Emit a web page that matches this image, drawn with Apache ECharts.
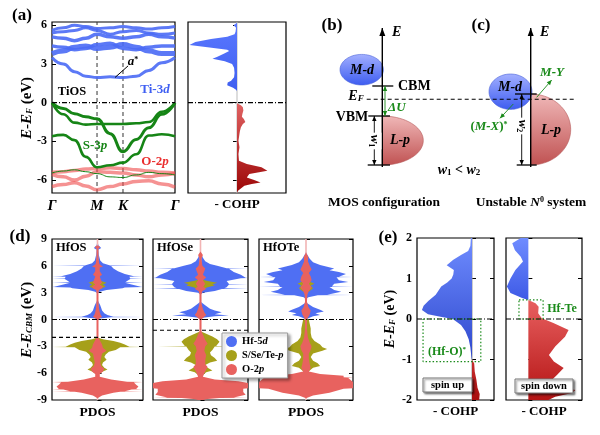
<!DOCTYPE html>
<html>
<head>
<meta charset="utf-8">
<script src="https://cdn.jsdelivr.net/npm/echarts@6.0.0/dist/echarts.min.js"></script>
<style>
html,body{margin:0;padding:0;background:#fff;}
#chart{width:600px;height:435px;}
</style>
</head>
<body>
<div id="chart"></div>
<script>
// ================= DATA =================
// (a) TiOS band structure
const kTicks = [0, 1, 1.577, 2.732];
const kTickLabels = ['Γ', 'M', 'K', 'Γ'];
const kGrid = [0, 0.25, 0.5, 0.75, 1.0, 1.29, 1.577, 1.87, 2.15, 2.44, 2.732];
const bandsTi3d = [
  [3.5, 3.0, 2.4, 2.05, 1.95, 2.0, 1.95, 2.05, 2.5, 3.1, 3.5],
  [3.8, 4.0, 4.3, 4.4, 4.2, 4.3, 4.5, 4.3, 4.0, 3.8, 3.8],
  [4.4, 4.3, 4.1, 4.2, 4.5, 4.6, 4.2, 4.1, 4.3, 4.4, 4.4],
  [5.1, 5.0, 4.8, 5.0, 5.3, 5.1, 5.0, 5.1, 5.3, 5.1, 5.0],
  [5.4, 5.5, 5.6, 5.8, 5.6, 5.3, 5.5, 5.6, 5.4, 5.3, 5.4],
  [5.6, 5.8, 6.0, 5.9, 5.75, 5.8, 5.9, 5.8, 5.7, 5.8, 5.9]
];
const bandsS3p = [
  [0, -0.45, -0.85, -1.1, -1.25, -2.4, -3.8, -2.85, -1.95, -0.9, 0],
  [0, -0.9, -1.55, -1.7, -1.65, -1.65, -1.65, -1.6, -1.5, -0.7, 0],
  [-2.6, -2.5, -2.9, -4.2, -5.0, -4.85, -4.65, -4.0, -2.55, -2.45, -2.6],
  [-5.45, -5.3, -5.2, -5.35, -5.5, -5.75, -5.8, -5.6, -5.4, -5.5, -5.6]
];
const bandsO2p = [
  [-5.4, -5.35, -5.25, -5.15, -5.1, -5.05, -5.1, -5.2, -5.3, -5.4, -5.45],
  [-5.55, -5.75, -6.0, -5.7, -5.35, -5.4, -5.45, -5.6, -5.75, -5.6, -5.5],
  [-6.5, -6.35, -6.2, -6.45, -6.75, -6.5, -6.3, -6.1, -6.05, -6.3, -6.55]
];
const aStarArrow = [[1.4, 1.95], [1.69, 2.85]];

// (a) -COHP of TiOS  [E, -COHP]
const cohpA_antibond = [[6.2,0],[6.0,-0.07],[5.8,-0.02],[5.5,-0.03],[5.3,-0.05],[5.1,-0.2],[4.93,-0.53],[4.7,-0.85],[4.47,-0.97],[4.3,-0.6],[4.1,-0.2],[4.0,-0.16],[3.8,-0.26],[3.55,-0.4],[3.4,-0.5],[3.2,-0.25],[3.0,-0.1],[2.7,-0.06],[2.3,-0.05],[1.96,-0.06],[1.7,-0.12],[1.57,-0.19],[1.35,-0.2],[1.15,-0.08],[1.0,-0.02],[0.9,0]];
const cohpA_bond = [[-0.05,0],[-0.2,0.08],[-0.36,0.12],[-0.6,0.13],[-0.88,0.11],[-1.1,0.1],[-1.26,0.14],[-1.5,0.17],[-1.65,0.12],[-1.91,0.08],[-2.2,0.06],[-2.43,0.05],[-2.95,0.03],[-3.2,0.04],[-3.46,0.05],[-3.98,0.03],[-4.5,0.04],[-4.75,0.2],[-5.01,0.5],[-5.27,0.62],[-5.4,0.45],[-5.53,0.25],[-5.79,0.2],[-6.0,0.35],[-6.18,0.48],[-6.3,0.3],[-6.43,0.15],[-6.82,0.02],[-7.0,0]];

// (d) PDOS half-widths  [E, w]
const hfOS_Hf5d = [[8.8,0],[8.3,0.02],[8.0,0.08],[7.8,0.02],[7.2,0.03],[6.6,0.06],[6.3,0.12],[6.03,0.28],[6.0,1.3],[5.97,0.3],[5.7,0.35],[5.4,0.45],[5.1,0.6],[4.83,0.8],[4.8,1.3],[4.77,0.7],[4.58,0.72],[4.55,1.3],[4.52,0.72],[4.3,0.65],[4.18,0.62],[4.15,1.3],[4.12,0.6],[3.9,0.75],[3.65,0.95],[3.62,1.3],[3.59,0.6],[3.5,0.55],[3.3,0.2],[3.1,0.05],[2.9,0],[2.2,0],[1.9,0.03],[1.6,0.06],[1.3,0.08],[1.0,0.1],[0.7,0.15],[0.5,0.22],[0.31,0.35],[0.28,1.3],[0.25,0.3],[0.1,0.05],[0.0,0]];
const hfOS_Sp = [[4.6,0],[4.3,0.08],[4.1,0.2],[3.9,0.12],[3.7,0.18],[3.5,0.1],[3.3,0],[-2.0,0],[-2.2,0.12],[-2.4,0.35],[-2.6,0.5],[-2.8,0.6],[-3.05,0.7],[-3.08,1.3],[-3.11,0.5],[-3.4,0.4],[-3.6,0.25],[-3.9,0.18],[-4.2,0.15],[-4.5,0.2],[-4.8,0.12],[-5.1,0.1],[-5.4,0.15],[-5.6,0.22],[-5.8,0.12],[-6.1,0.04],[-6.3,0]];
const hfOS_O2p = [[8.3,0],[8.1,0.06],[7.9,0.02],[7.0,0.02],[6.2,0.04],[5.9,0.12],[5.8,0.05],[5.4,0.05],[5.0,0.1],[4.8,0.05],[4.4,0.08],[4.1,0.1],[3.9,0.05],[3.7,0.12],[3.5,0.1],[3.3,0.03],[3.0,0.02],[2.0,0.02],[1.3,0.03],[0.8,0.05],[0.5,0.07],[0.3,0.1],[0.15,0.05],[0.0,0.02],[-2.0,0.02],[-2.4,0.06],[-2.8,0.1],[-3.2,0.12],[-3.5,0.2],[-3.8,0.1],[-4.3,0.08],[-4.8,0.06],[-5.2,0.08],[-5.5,0.15],[-5.8,0.12],[-6.1,0.05],[-6.4,0.05],[-6.7,0.3],[-6.97,0.65],[-7.0,1.3],[-7.03,0.8],[-7.3,0.85],[-7.5,0.9],[-7.77,0.85],[-7.8,1.3],[-7.83,0.75],[-8.02,0.6],[-8.05,1.3],[-8.08,0.5],[-8.2,0.35],[-8.5,0.1],[-8.8,0]];
const hfOSe_Hf5d = [[7.6,0],[7.3,0.02],[6.9,0.05],[6.5,0.1],[6.2,0.2],[6.0,0.35],[5.73,0.55],[5.7,1.3],[5.67,0.6],[5.3,0.7],[5.0,0.85],[4.68,0.95],[4.65,1.3],[4.62,0.85],[4.3,0.55],[3.98,0.6],[3.95,1.3],[3.92,0.6],[3.6,0.55],[3.48,0.5],[3.45,1.3],[3.42,0.45],[3.2,0.3],[3.0,0.05],[2.8,0],[2.0,0],[1.8,0.05],[1.5,0.12],[1.2,0.2],[1.0,0.3],[0.8,0.45],[0.6,0.3],[0.45,0.6],[0.35,0.3],[0.2,0.05],[0.1,0]];
const hfOSe_Sep = [[4.5,0],[4.3,0.15],[4.1,0.35],[3.95,0.25],[3.8,0.3],[3.6,0.15],[3.3,0],[-1.3,0],[-1.6,0.12],[-1.9,0.25],[-2.2,0.35],[-2.5,0.4],[-2.97,0.33],[-3.0,0.9],[-3.03,0.3],[-3.4,0.25],[-3.7,0.2],[-4.0,0.22],[-4.3,0.3],[-4.6,0.35],[-4.8,0.2],[-5.1,0.1],[-5.4,0.15],[-5.7,0.25],[-5.9,0.12],[-6.3,0.03],[-6.6,0]];
const hfOSe_O2p = [[7.6,0],[7.2,0.05],[6.8,0.02],[6.0,0.04],[5.7,0.1],[5.4,0.08],[5.0,0.05],[4.7,0.12],[4.4,0.05],[4.0,0.1],[3.7,0.06],[3.4,0.12],[3.2,0.04],[2.8,0.02],[1.8,0.02],[1.2,0.05],[0.8,0.08],[0.5,0.12],[0.3,0.08],[0.0,0.02],[-1.3,0.02],[-1.8,0.06],[-2.3,0.1],[-2.7,0.15],[-3.0,0.1],[-3.5,0.08],[-4.0,0.12],[-4.5,0.1],[-5.0,0.1],[-5.3,0.15],[-5.6,0.12],[-6.0,0.08],[-6.4,0.05],[-6.7,0.3],[-6.9,0.8],[-7.1,1.0],[-7.4,1.1],[-7.67,1.0],[-7.7,1.3],[-7.73,0.9],[-8.1,0.9],[-8.4,0.95],[-8.72,0.7],[-8.75,1.3],[-8.78,0.4],[-8.9,0.15],[-9.0,0.05]];
const hfOTe_Hf5d = [[7.6,0],[7.2,0.03],[6.8,0.08],[6.4,0.15],[6.1,0.3],[5.9,0.45],[5.7,0.6],[5.5,0.5],[5.3,0.7],[5.1,0.85],[4.78,0.7],[4.75,1.3],[4.72,0.65],[4.4,0.7],[4.2,0.9],[4.0,0.6],[3.68,0.55],[3.65,1.3],[3.62,0.5],[3.3,0.6],[3.1,0.75],[2.78,0.45],[2.75,1.3],[2.72,0.25],[2.5,0.05],[2.3,0],[1.9,0],[1.7,0.06],[1.4,0.15],[1.1,0.3],[0.9,0.38],[0.7,0.2],[0.5,0.3],[0.35,0.15],[0.15,0.05],[0.0,0]];
const hfOTe_Tep = [[4.5,0],[4.2,0.1],[4.0,0.18],[3.8,0.1],[3.5,0.15],[3.2,0.08],[3.0,0],[0.05,0],[0.0,0.06],[-0.5,0.08],[-1.0,0.1],[-1.5,0.1],[-2.0,0.12],[-2.4,0.18],[-2.8,0.3],[-3.1,0.35],[-3.3,0.45],[-3.5,0.35],[-3.8,0.15],[-4.2,0.1],[-4.6,0.15],[-4.9,0.25],[-5.2,0.3],[-5.4,0.15],[-5.7,0.08],[-6.1,0]];
const hfOTe_O2p = [[7.5,0],[7.0,0.05],[6.5,0.04],[6.0,0.08],[5.6,0.12],[5.2,0.06],[4.8,0.1],[4.4,0.12],[4.0,0.06],[3.6,0.12],[3.2,0.06],[2.8,0.03],[2.0,0.02],[1.4,0.05],[1.0,0.1],[0.6,0.08],[0.3,0.05],[0.0,0.02],[-1.0,0.02],[-2.0,0.04],[-2.6,0.08],[-3.0,0.12],[-3.4,0.1],[-3.8,0.06],[-4.4,0.06],[-5.0,0.08],[-5.4,0.1],[-5.8,0.06],[-6.1,0.3],[-6.3,0.8],[-6.47,0.8],[-6.5,1.3],[-6.53,0.9],[-7.0,1.0],[-7.3,1.2],[-7.67,1.0],[-7.7,1.3],[-7.73,0.8],[-8.2,0.5],[-8.5,0.15],[-8.8,0]];
const pdosNames = ['HfOS', 'HfOSe', 'HfOTe'];
const pdosVBM = [-2.0, -1.2, null];

// (e) -COHP of Hf bonds, spin up / spin down  [E, -COHP]
const spinUp_anti = [[2.0,-0.02],[1.8,-0.03],[1.68,-0.07],[1.58,-0.2],[1.46,-0.34],[1.33,-0.46],[1.21,-0.33],[1.1,-0.34],[1.0,-0.37],[0.9,-0.45],[0.8,-0.56],[0.6,-0.66],[0.45,-0.79],[0.33,-0.88],[0.22,-0.91],[0.12,-0.8],[0.05,-0.55],[0.0,-0.35],[-0.15,-0.2],[-0.3,-0.12],[-0.5,-0.06],[-0.7,-0.03],[-0.95,-0.01],[-1.02,0]];
const spinUp_bond = [[-1.0,0],[-1.1,0.04],[-1.3,0.05],[-1.5,0.08],[-1.7,0.1],[-1.85,0.14],[-2.0,0.13]];
const spinDn_anti = [[2.0,-0.17],[1.87,-0.36],[1.7,-0.3],[1.54,-0.17],[1.42,-0.12],[1.21,-0.29],[1.0,-0.4],[0.8,-0.48],[0.64,-0.4],[0.52,-0.14],[0.47,0]];
const spinDn_bond = [[0.47,0],[0.39,0.16],[0.3,0.23],[0.14,0.22],[0.02,0.3],[-0.1,0.56],[-0.27,0.9],[-0.44,0.82],[-0.68,0.6],[-0.89,0.46],[-1.05,0.57],[-1.21,0.79],[-1.38,0.64],[-1.5,0.53],[-1.67,0.72],[-1.75,1.05],[-1.83,0.98],[-1.92,0.6],[-2.0,0.45]];
const hfoBox = [[-0.89,0],[0.16,0],[0.16,-1.05],[-0.89,-1.05],[-0.89,0]];
const hfteBox = [[-0.21,0.47],[0.33,0.47],[0.33,0],[-0.21,0],[-0.21,0.47]];

// (b),(c) schematic (drawing units)
const schemBlobs = [ // cx, cy, rx, ry, a0, a1, kind(0=M-d,1=L-p)
  [87.3, 140.5, 41, 24.5, -90, 90, 1],
  [66.7, 69.7, 21.7, 15.3, 0, 360, 0],
  [235.7, 129.5, 40, 35.5, -90, 90, 1],
  [215.5, 91.7, 21.5, 17.7, 0, 360, 0]
];
const schemSegments = [ // x0,y0,x1,y1,kind(0 solid,1 dashed)
  [77.3, 86, 98.3, 86, 0],
  [73.3, 116, 95, 116, 0],
  [72.7, 165, 95, 165, 0],
  [220, 94, 241.7, 94, 0],
  [221.7, 165, 241.7, 165, 0],
  [71.7, 99.3, 281.7, 99.3, 1]
];
const schemArrows = [ // x0,y0,x1,y1,color(0 black,1 green),heads(1 end,2 both),width
  [87.3, 167, 87.3, 28, 0, 1, 1.4],
  [235.7, 167, 235.7, 28, 0, 1, 1.4],
  [79.3, 116, 79.3, 165, 0, 2, 0.9],
  [226.7, 94, 226.7, 165, 0, 2, 0.9],
  [90, 86, 90, 116, 1, 2, 0.9],
  [241.7, 97.3, 256.7, 80, 1, 1, 0.9],
  [218.3, 104, 205, 118.3, 1, 1, 0.9]
];

// ================= STYLE HELPERS =================
const F = '"Liberation Serif","Times New Roman",Times,serif';
const GREEN = '#1a8a1a';
const C_D = '#4f6ff3', C_P = '#a6a01a', C_O = '#e8625f';

function rich(size, color) {
  const base = {fontFamily: F, fontSize: size, fontWeight: 'bold', color: color, fill: color};
  return {
    b: Object.assign({}, base),
    i: Object.assign({}, base, {fontStyle: 'italic'}),
    sub: Object.assign({}, base, {fontSize: Math.round(size * 0.62), verticalAlign: 'bottom'}),
    subi: Object.assign({}, base, {fontSize: Math.round(size * 0.62), verticalAlign: 'bottom', fontStyle: 'italic'}),
    sup: Object.assign({}, base, {fontSize: Math.round(size * 0.62), verticalAlign: 'top'})
  };
}
function gtext(x, y, text, size, color, align, extra) {
  const c = color || '#000';
  return Object.assign({
    type: 'text', x: x, y: y, z: 100, silent: true,
    style: {text: text, fontFamily: F, fontSize: size, fontWeight: 'bold', fill: c,
      align: align || 'center', verticalAlign: 'middle', rich: rich(size, c)}
  }, extra || {});
}
function grad(c0, c1) {
  return new echarts.graphic.LinearGradient(0, 0, 0, 1, [{offset: 0, color: c0}, {offset: 1, color: c1}]);
}
function polySeries(name, xi, yi, pts, fill, z, legendColor) {
  return {
    type: 'custom', name: name, xAxisIndex: xi, yAxisIndex: yi, z: z, silent: true, clip: true,
    itemStyle: {color: legendColor || (typeof fill === 'string' ? fill : '#888')},
    data: pts, encode: {x: 0, y: 1},
    renderItem: function (params, api) {
      if (params.dataIndexInside !== 0) return null;
      const cs = params.coordSys;
      const P = pts.map(function (p) {
        const c = api.coord(p);
        return [Math.max(cs.x, Math.min(cs.x + cs.width, c[0])), Math.max(cs.y, Math.min(cs.y + cs.height, c[1]))];
      });
      return {type: 'polygon', shape: {points: P}, style: {fill: fill}};
    }
  };
}
function mirrorPoly(profile) {
  const right = profile.map(function (p) { return [p[1], p[0]]; });
  const left = profile.slice().reverse().map(function (p) { return [-p[1], p[0]]; });
  return right.concat(left);
}
function sidePoly(profile) {
  const pts = profile.map(function (p) { return [p[1], p[0]]; });
  return [[0, profile[0][0]]].concat(pts).concat([[0, profile[profile.length - 1][0]]]);
}
function lineS(xi, yi, data, color, width, type, z, extra) {
  return Object.assign({
    type: 'line', xAxisIndex: xi, yAxisIndex: yi, data: data, showSymbol: false, symbol: 'none',
    silent: true, z: z || 5, clip: true,
    lineStyle: {color: color, width: width, type: type || 'solid'}
  }, extra || {});
}
const DASHDOT = [5, 2, 1, 2];

// ================= AXES =================
const grids = [
  {left: 52, top: 22, width: 123, height: 171},
  {left: 188, top: 22, width: 98, height: 171},
  {left: 295, top: 0, width: 305, height: 215, show: false},
  {left: 52, top: 239, width: 91, height: 161},
  {left: 153, top: 239, width: 95, height: 161},
  {left: 259, top: 239, width: 94, height: 161},
  {left: 417, top: 238, width: 77, height: 162},
  {left: 506, top: 238, width: 76, height: 162}
].map(function (g) {
  return Object.assign({show: true, borderColor: '#000', borderWidth: 1.2, backgroundColor: 'transparent',
    containLabel: false, outerBoundsMode: 'none'}, g);
});

const labelStyle = {fontFamily: F, fontWeight: 'bold', fontSize: 12, color: '#000'};
const tickStyle = {inside: true, length: 4, lineStyle: {color: '#000', width: 1}};
function xAx(grid, min, max, extra) {
  return Object.assign({
    type: 'value', gridIndex: grid, min: min, max: max,
    axisLine: {show: false}, axisTick: {show: false}, axisLabel: {show: false}, splitLine: {show: false}
  }, extra || {});
}
function yAx(grid, min, max, pos, showLabel, ticks, extra) {
  const tk = Object.assign({show: true}, tickStyle);
  const lb = Object.assign({show: showLabel, margin: 5}, labelStyle);
  if (ticks) { tk.customValues = ticks; lb.customValues = ticks; }
  return Object.assign({
    type: 'value', gridIndex: grid, min: min, max: max, position: pos, offset: 0,
    axisLine: {show: false}, axisTick: tk, axisLabel: lb, splitLine: {show: false}
  }, extra || {});
}
const nameStyle = function (size) {
  return {fontFamily: F, fontSize: size, fontWeight: 'bold', color: '#000', rich: rich(size, '#000')};
};
const xNameCOHP = {name: '- COHP', nameLocation: 'middle', nameGap: 5, nameTextStyle: nameStyle(13)};

const xAxes = [
  xAx(0, 0, 2.732, {axisLabel: {show: true, customValues: kTicks, margin: 6,
    formatter: function (v) { for (let i = 0; i < kTicks.length; i++) if (Math.abs(kTicks[i] - v) < 1e-6) return kTickLabels[i]; return ''; },
    fontFamily: F, fontWeight: 'bold', fontStyle: 'italic', fontSize: 15, color: '#000'}}),
  xAx(1, -1, 1, xNameCOHP),
  xAx(2, 0, 305, {show: false}),
  xAx(3, -1, 1, {name: 'PDOS', nameLocation: 'middle', nameGap: 6, nameTextStyle: nameStyle(13.5)}),
  xAx(4, -1, 1, {name: 'PDOS', nameLocation: 'middle', nameGap: 6, nameTextStyle: nameStyle(13.5)}),
  xAx(5, -1, 1, {name: 'PDOS', nameLocation: 'middle', nameGap: 6, nameTextStyle: nameStyle(13.5)}),
  xAx(6, -1, 0.4, xNameCOHP),
  xAx(7, -0.5, 1.2, xNameCOHP)
];
const ticksA = [-6, -3, 0, 3, 6];
const yAxes = [
  yAx(0, -7, 6.25, 'left', true, ticksA),
  yAx(1, -7, 6.25, 'right', false, ticksA),
  yAx(2, 0, 215, 'left', false, null, {show: false, inverse: true}),
  yAx(3, -9, 9, 'left', true, null, {interval: 3}),
  yAx(3, -9, 9, 'right', false, null, {interval: 3}),
  yAx(4, -9, 9, 'left', false, null, {interval: 3}),
  yAx(4, -9, 9, 'right', false, null, {interval: 3}),
  yAx(5, -9, 9, 'left', false, null, {interval: 3}),
  yAx(5, -9, 9, 'right', false, null, {interval: 3}),
  yAx(6, -2, 2, 'left', true, null, {interval: 1, name: '{i|E}{b|-}{i|E}{subi|F}{b| (eV)}', nameLocation: 'middle', nameGap: 20, nameTextStyle: nameStyle(14)}),
  yAx(6, -2, 2, 'right', false, null, {interval: 1}),
  yAx(7, -2, 2, 'left', false, null, {interval: 1}),
  yAx(7, -2, 2, 'right', false, null, {interval: 1})
];

// ================= SERIES =================
const series = [];
// (a) bands
const widthsTi3d = [3, 5, 3.5, 3.5, 3, 3];
bandsO2p.forEach(function (b) {
  series.push(lineS(0, 0, kGrid.map(function (k, j) { return [k, b[j]]; }), '#ee4a4a', 3.5, 'solid', 3,
    {smooth: 0.5, smoothMonotone: 'x', lineStyle: {color: '#ee4a4a', width: 3.5, opacity: 0.6}}));
});
const widthsS3p = [3, 2.6, 2.6, 1];
bandsS3p.forEach(function (b, i) {
  series.push(lineS(0, 0, kGrid.map(function (k, j) { return [k, b[j]]; }), '#168516', widthsS3p[i], 'solid', 4,
    {smooth: 0.5, smoothMonotone: 'x'}));
});
bandsTi3d.forEach(function (b, i) {
  series.push(lineS(0, 0, kGrid.map(function (k, j) { return [k, b[j]]; }), '#4a6af5', widthsTi3d[i], 'solid', 4,
    {smooth: 0.5, smoothMonotone: 'x', lineStyle: {color: '#4a6af5', width: widthsTi3d[i], opacity: 0.9}}));
});
[1, 1.577].forEach(function (k) {
  series.push(lineS(0, 0, [[k, -7], [k, 6.25]], '#333', 1, [4, 3], 2));
});
series.push(lineS(0, 0, [[0, 0], [2.732, 0]], '#000', 1.2, DASHDOT, 6));
series.push(lineS(0, 0, aStarArrow, '#000', 1, 'solid', 6));
// (a) COHP
series.push(lineS(1, 1, [[0, -7], [0, 6.25]], '#bbb', 1, 'solid', 1));
series.push(polySeries('', 1, 1, sidePoly(cohpA_antibond), grad('#5a78ff', '#3f5ff0'), 3));
series.push(polySeries('', 1, 1, sidePoly(cohpA_bond), grad('#e06262', '#9c0606'), 3));
series.push(lineS(1, 1, [[-1, 0], [1, 0]], '#000', 1.2, DASHDOT, 6));

// (b),(c) schematic
series.push({
  type: 'custom', xAxisIndex: 2, yAxisIndex: 2, z: 2, silent: true, data: schemBlobs,
  encode: {x: 0, y: 1},
  renderItem: function (params, api) {
    const cx = api.value(0), cy = api.value(1), rx = api.value(2), ry = api.value(3);
    const a0 = api.value(4), a1 = api.value(5), kind = api.value(6);
    const pts = [];
    for (let a = a0; a <= a1 + 1e-6; a += 5) {
      const t = a * Math.PI / 180;
      pts.push(api.coord([cx + rx * Math.cos(t), cy + ry * Math.sin(t)]));
    }
    const fill = kind === 0 ? grad('#a3b0ff', '#3d5cf0') : grad('#f0b8b8', '#c05252');
    return {type: 'polygon', shape: {points: pts},
      style: {fill: fill, stroke: kind === 0 ? '#4e64d8' : '#b55a5a', lineWidth: 0.6}};
  }
});
series.push({
  type: 'custom', xAxisIndex: 2, yAxisIndex: 2, z: 3, silent: true, data: schemSegments,
  encode: {x: 0, y: 1},
  renderItem: function (params, api) {
    const p = api.coord([api.value(0), api.value(1)]), q = api.coord([api.value(2), api.value(3)]);
    const dashed = api.value(4) === 1;
    return {type: 'line', shape: {x1: p[0], y1: p[1], x2: q[0], y2: q[1]},
      style: {stroke: '#000', lineWidth: dashed ? 1.1 : 1.3, lineDash: dashed ? [4, 3] : null}};
  }
});
function headPts(p, q, L, W) {
  const dx = q[0] - p[0], dy = q[1] - p[1], len = Math.hypot(dx, dy), ux = dx / len, uy = dy / len;
  const bx = q[0] - ux * L, by = q[1] - uy * L;
  return [[q[0], q[1]], [bx - uy * W, by + ux * W], [bx + uy * W, by - ux * W]];
}
series.push({
  type: 'custom', xAxisIndex: 2, yAxisIndex: 2, z: 4, silent: true, data: schemArrows,
  encode: {x: 0, y: 1},
  renderItem: function (params, api) {
    const p = api.coord([api.value(0), api.value(1)]), q = api.coord([api.value(2), api.value(3)]);
    const col = api.value(4) === 1 ? GREEN : '#000';
    const heads = api.value(5), w = api.value(6);
    const big = w > 1.2;
    const L = big ? 8 : 5, W = big ? 3 : 2.2;
    const ch = [{type: 'line', shape: {x1: p[0], y1: p[1], x2: q[0], y2: q[1]}, style: {stroke: col, lineWidth: w}},
      {type: 'polygon', shape: {points: headPts(p, q, L, W)}, style: {fill: col}}];
    if (heads === 2) ch.push({type: 'polygon', shape: {points: headPts(q, p, L, W)}, style: {fill: col}});
    return {type: 'group', children: ch};
  }
});

// (d) PDOS
const pdosSets = [[hfOS_Hf5d, hfOS_Sp, hfOS_O2p], [hfOSe_Hf5d, hfOSe_Sep, hfOSe_O2p], [hfOTe_Hf5d, hfOTe_Tep, hfOTe_O2p]];
pdosSets.forEach(function (set, i) {
  const xi = 3 + i, yi = 3 + 2 * i;
  series.push(polySeries('Hf-5d', xi, yi, mirrorPoly(set[0]), C_D, 3, C_D));
  series.push(polySeries('S/Se/Te-p', xi, yi, mirrorPoly(set[1]), C_P, 4, C_P));
  series.push(lineS(xi, yi, [[0, -9], [0, 9]], '#f2b4b4', 1.6, 'solid', 5));
  series.push(polySeries('O-2p', xi, yi, mirrorPoly(set[2]), C_O, 6, C_O));
  series.push(lineS(xi, yi, [[-1, 0], [1, 0]], '#000', 1.2, DASHDOT, 7));
  if (pdosVBM[i] !== null) series.push(lineS(xi, yi, [[-1, pdosVBM[i]], [1, pdosVBM[i]]], '#000', 1.2, [4, 3], 7));
});

// (e) COHP spin up / down
series.push(lineS(6, 9, [[0, -2], [0, 2]], '#999', 1, 'solid', 2));
series.push(polySeries('', 6, 9, sidePoly(spinUp_anti), grad('#6f8cff', '#2d47cc'), 3));
series.push(polySeries('', 6, 9, sidePoly(spinUp_bond), grad('#c83030', '#a80d0d'), 3));
series.push(polySeries('', 7, 11, sidePoly(spinDn_anti), grad('#6f8cff', '#3e5ae6'), 3));
series.push(polySeries('', 7, 11, sidePoly(spinDn_bond), grad('#e86060', '#b41414'), 3));
series.push(lineS(6, 9, [[-1, 0], [0.4, 0]], '#000', 1.2, DASHDOT, 6));
series.push(lineS(7, 11, [[-0.5, 0], [1.2, 0]], '#000', 1.2, DASHDOT, 6));
series.push(lineS(6, 9, hfoBox, GREEN, 1.2, [1.5, 2], 7));
series.push(lineS(7, 11, hfteBox, GREEN, 1.2, [1.5, 2], 7));

// ================= ANNOTATIONS =================
const graphics = [
  gtext(22, 16, '(a)', 17), gtext(332, 26, '(b)', 17), gtext(481, 26, '(c)', 17),
  gtext(20, 237, '(d)', 17), gtext(388, 238, '(e)', 17),
  // y-axis titles for (a) and (d)
  gtext(27, 108, '{i|E}{b|-}{i|E}{subi|F}{b| (eV)}', 15, '#000', 'center', {rotation: Math.PI / 2}),
  gtext(27, 320, '{i|E}{b|-}{i|E}{subi|CBM}{b| (eV)}', 15, '#000', 'center', {rotation: Math.PI / 2}),
  gtext(72, 92, 'TiOS', 12.5),
  gtext(155, 90, '{b|Ti-3}{i|d}', 13, '#3f5ff2'),
  gtext(95, 146, '{b|S-3}{i|p}', 13, '#168516'),
  gtext(155, 162, '{b|O-2}{i|p}', 13, '#ea2e2e'),
  gtext(133, 62, '{i|a}{sup|*}', 13),
  // (b)
  gtext(392, 32, '{i|E}', 14, '#000', 'left'),
  gtext(362, 70, '{i|M-d}', 14),
  gtext(398, 86, 'CBM', 14, '#000', 'left'),
  gtext(356, 96, '{i|E}{subi|F}', 14),
  gtext(388, 108, '{i|ΔU}', 13, GREEN, 'left'),
  gtext(352, 117, 'VBM', 14),
  gtext(400, 140, '{i|L-p}', 14),
  gtext(459, 170, '{i|w}{sub|1}{b| < }{i|w}{sub|2}', 14),
  gtext(384, 203, 'MOS configuration', 13.5),
  // (c)
  gtext(540, 32, '{i|E}', 14, '#000', 'left'),
  gtext(510, 87, '{i|M-d}', 14),
  gtext(552, 73, '{i|M-Y}', 13, GREEN),
  gtext(489, 127, '{b|(}{i|M-X}{b|)}{sup|*}', 13, GREEN),
  gtext(551, 130, '{i|L-p}', 14),
  gtext(531, 203, '{b|Unstable }{i|N}{sup|0}{b| system}', 13.5),
  gtext(374, 141, '{i|w}{sub|1}', 13, '#000', 'center', {rotation: -Math.PI / 2, wbg: true}),
  gtext(522, 126, '{i|w}{sub|2}', 13, '#000', 'center', {rotation: -Math.PI / 2, wbg: true}),
  // (d)
  gtext(56, 248, 'HfOS', 12.5, '#000', 'left'),
  gtext(157, 248, 'HfOSe', 12.5, '#000', 'left'),
  gtext(263, 248, 'HfOTe', 12.5, '#000', 'left'),
  // (e)
  gtext(447, 352, '{b|(Hf-O)}{sup|*}', 12, GREEN),
  gtext(562, 309, 'Hf-Te', 12, GREEN),
  {type: 'rect', z: 99, silent: true, shape: {x: 423, y: 378, width: 49, height: 14},
    style: {fill: '#fff', stroke: '#777', lineWidth: 1, shadowBlur: 2, shadowOffsetX: 1.5, shadowOffsetY: 1.5, shadowColor: 'rgba(0,0,0,0.45)'}},
  gtext(447.5, 385, 'spin up', 10.5),
  {type: 'rect', z: 99, silent: true, shape: {x: 515, y: 379, width: 58, height: 14},
    style: {fill: '#fff', stroke: '#777', lineWidth: 1, shadowBlur: 2, shadowOffsetX: 1.5, shadowOffsetY: 1.5, shadowColor: 'rgba(0,0,0,0.45)'}},
  gtext(544, 386, 'spin down', 10.5)
];
graphics.forEach(function (g) {
  if (g.wbg) { g.style.backgroundColor = '#fff'; g.style.padding = [1, 2]; }
  delete g.wbg;
});

const legendNames = {'Hf-5d': '{b|Hf-5}{i|d}', 'S/Se/Te-p': '{b|S/Se/Te-}{i|p}', 'O-2p': '{b|O-2}{i|p}'};

const chart = echarts.init(document.getElementById('chart'), null, {renderer: 'canvas'});
chart.setOption({
  animation: false,
  backgroundColor: '#fff',
  grid: grids,
  xAxis: xAxes,
  yAxis: yAxes,
  legend: {
    data: ['Hf-5d', 'S/Se/Te-p', 'O-2p'], orient: 'vertical', left: 222, top: 333,
    icon: 'circle', itemWidth: 11, itemHeight: 11, itemGap: 3, selectedMode: false,
    backgroundColor: '#fff', borderColor: '#999', borderWidth: 1, borderRadius: 0,
    padding: [3, 4, 3, 4], shadowBlur: 3, shadowColor: 'rgba(0,0,0,0.35)', shadowOffsetX: 2, shadowOffsetY: 2,
    z: 50,
    formatter: function (n) { return legendNames[n]; },
    textStyle: {fontFamily: F, fontWeight: 'bold', fontSize: 10.5, color: '#000', rich: rich(10.5, '#000')}
  },
  graphic: {elements: graphics},
  series: series
});
</script>
</body>
</html>
